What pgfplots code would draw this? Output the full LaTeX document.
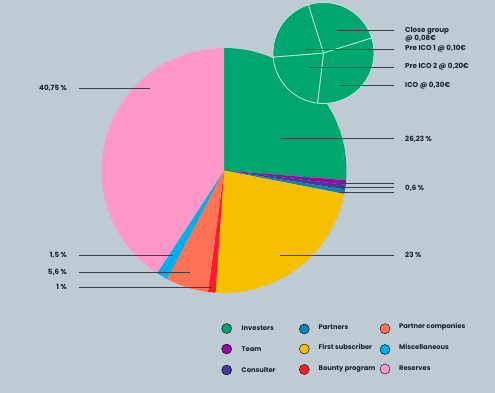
\documentclass[border=0pt]{standalone}
\usepackage{pgfplots}
\usepackage{pgfplotstable}
\usepackage{fontspec}
\setmainfont{Poppins}
\pgfplotsset{compat=1.18}

\definecolor{bg}{HTML}{BFCBD3}
\definecolor{inv}{HTML}{00A56F}
\definecolor{team}{HTML}{990A99}
\definecolor{cons}{HTML}{45399A}
\definecolor{part}{HTML}{0A84B6}
\definecolor{first}{HTML}{F6C000}
\definecolor{bounty}{HTML}{FF1A2D}
\definecolor{pcomp}{HTML}{FF7354}
\definecolor{misc}{HTML}{00AEEF}
\definecolor{res}{HTML}{FF98C8}
\definecolor{txt}{HTML}{1B2030}
\definecolor{ln}{HTML}{3A4046}

% main pie: share in percent, clockwise from 12 o'clock
\pgfplotstableread{
pct col
26.23 inv
0.6 team
0.6 cons
0.6 part
23 first
1 bounty
5.6 pcomp
1.5 misc
40.75 res
}\piedata

% ICO round pie (Close group, ICO, Pre ICO 2, Pre ICO 1), clockwise
\pgfplotstableread{
pct col
25.08 inv
31.67 inv
21.83 inv
21.42 inv
}\icodata

\begin{document}
\begin{tikzpicture}[font=\fontsize{7.1}{8}\selectfont\bfseries]
\begin{axis}[
  scale only axis, width=495pt, height=393pt,
  xmin=0, xmax=495, ymin=0, ymax=393, y dir=reverse,
  hide axis, clip=true,
]
\fill[bg] (axis cs:0,0) rectangle (axis cs:495,393);

% main pie
\gdef\cumangle{90}
\pgfplotsforeachungrouped \i in {0,...,8}{%
  \pgfplotstablegetelem{\i}{pct}\of\piedata \let\myp\pgfplotsretval
  \pgfplotstablegetelem{\i}{col}\of\piedata \let\mycol\pgfplotsretval
  \pgfmathsetmacro\angA{\cumangle}%
  \pgfmathsetmacro\angB{\cumangle - 360*\myp/99.88}%
  \edef\temp{\noexpand\addplot[fill=\mycol, draw=none, domain=\angB:\angA, samples=80, variable=\noexpand\t]
    ({224+122.5*cos(\noexpand\t)},{170.5-122.5*sin(\noexpand\t)}) -- (axis cs:224,170.5) -- cycle;}%
  \temp
  \xdef\cumangle{\angB}%
}

% small pie
\gdef\cumangle{107.5}
\pgfplotsforeachungrouped \i in {0,...,3}{%
  \pgfplotstablegetelem{\i}{pct}\of\icodata \let\myp\pgfplotsretval
  \pgfplotstablegetelem{\i}{col}\of\icodata \let\mycol\pgfplotsretval
  \pgfmathsetmacro\angA{\cumangle}%
  \pgfmathsetmacro\angB{\cumangle - 360*\myp/100}%
  \edef\temp{\noexpand\addplot[fill=\mycol, draw=white!75!inv, line width=0.8pt, line join=round, domain=\angB:\angA, samples=60, variable=\noexpand\t]
    ({323.5+50.5*cos(\noexpand\t)},{53-50.5*sin(\noexpand\t)}) -- (axis cs:323.5,53) -- cycle;}%
  \temp
  \xdef\cumangle{\angB}%
}

% leader lines
\addplot[ln, line width=0.9pt] coordinates {(337,30.7) (394,30.7)};
\addplot[ln, line width=0.9pt] coordinates {(305,49) (394,49)};
\addplot[ln, line width=0.9pt] coordinates {(309,67) (394,67)};
\addplot[ln, line width=0.9pt] coordinates {(340,85) (394,85)};
\addplot[ln, line width=0.9pt] coordinates {(280,138.7) (394,138.7)};
\addplot[ln, line width=0.9pt] coordinates {(340,183.3) (394,183.3)};
\addplot[ln, line width=0.9pt] coordinates {(340,187.8) (394,187.8)};
\addplot[ln, line width=0.9pt] coordinates {(340,192.2) (394,192.2)};
\addplot[ln, line width=0.9pt] coordinates {(280,255) (394,255)};
\addplot[ln, line width=0.9pt] coordinates {(79,88) (150,88)};
\addplot[ln, line width=0.9pt] coordinates {(79,255.7) (173,255.7)};
\addplot[ln, line width=0.9pt] coordinates {(79,272.3) (190,272.3)};
\addplot[ln, line width=0.9pt] coordinates {(79,287) (212,287)};

% labels
\node[txt, anchor=west, align=left, inner sep=0pt] at (axis cs:405,34.5) {Close group\\[-0.5pt]@ 0,08€};
\node[txt, anchor=west, inner sep=0pt] at (axis cs:405,48.5) {Pre ICO 1 @ 0,10€};
\node[txt, anchor=west, inner sep=0pt] at (axis cs:405,67) {Pre ICO 2 @ 0,20€};
\node[txt, anchor=west, inner sep=0pt] at (axis cs:405,85.5) {ICO @ 0,30€};
\node[txt, anchor=west, inner sep=0pt] at (axis cs:405,139) {26,23 \%};
\node[txt, anchor=west, inner sep=0pt] at (axis cs:405,188.3) {0,6 \%};
\node[txt, anchor=west, inner sep=0pt] at (axis cs:405,255.3) {23 \%};
\node[txt, anchor=east, inner sep=0pt] at (axis cs:67,88) {40,75 \%};
\node[txt, anchor=east, inner sep=0pt] at (axis cs:67,255.7) {1,5 \%};
\node[txt, anchor=east, inner sep=0pt] at (axis cs:67,272.3) {5,6 \%};
\node[txt, anchor=east, inner sep=0pt] at (axis cs:67,287) {1 \%};

% legend markers
\addplot[only marks, mark=*, mark size=5, draw=none, mark options={draw=none, fill=inv}] coordinates {(226.7,328.5)};
\addplot[only marks, mark=*, mark size=5, draw=none, mark options={draw=none, fill=team}] coordinates {(226.7,349)};
\addplot[only marks, mark=*, mark size=5, draw=none, mark options={draw=none, fill=cons}] coordinates {(226.7,370)};
\addplot[only marks, mark=*, mark size=5, draw=none, mark options={draw=none, fill=part}] coordinates {(304.3,329)};
\addplot[only marks, mark=*, mark size=5, draw=none, mark options={draw=none, fill=first}] coordinates {(304.3,349)};
\addplot[only marks, mark=*, mark size=5, draw=none, mark options={draw=none, fill=bounty}] coordinates {(304.3,369.5)};
\addplot[only marks, mark=*, mark size=5, draw=none, mark options={draw=none, fill=pcomp}] coordinates {(385,328.7)};
\addplot[only marks, mark=*, mark size=5, draw=none, mark options={draw=none, fill=misc}] coordinates {(385,349.5)};
\addplot[only marks, mark=*, mark size=5, draw=none, mark options={draw=none, fill=res}] coordinates {(385,369)};

\begin{scope}[font=\fontsize{6.7}{8}\selectfont\bfseries]
\node[txt, anchor=west, inner sep=0pt] at (axis cs:241.5,328.5) {Investors};
\node[txt, anchor=west, inner sep=0pt] at (axis cs:241.5,349) {Team};
\node[txt, anchor=west, inner sep=0pt] at (axis cs:241.5,370) {Consulter};
\node[txt, anchor=west, inner sep=0pt] at (axis cs:318.5,327.3) {Partners};
\node[txt, anchor=west, inner sep=0pt] at (axis cs:318.5,347.3) {First subscriber};
\node[txt, anchor=west, inner sep=0pt] at (axis cs:318.5,369.3) {Bounty program};
\node[txt, anchor=west, inner sep=0pt] at (axis cs:399,327) {Partner companies};
\node[txt, anchor=west, inner sep=0pt] at (axis cs:399,347.3) {Miscellaneous};
\node[txt, anchor=west, inner sep=0pt] at (axis cs:399,368.3) {Reserves};
\end{scope}
\end{axis}
\end{tikzpicture}
\end{document}
